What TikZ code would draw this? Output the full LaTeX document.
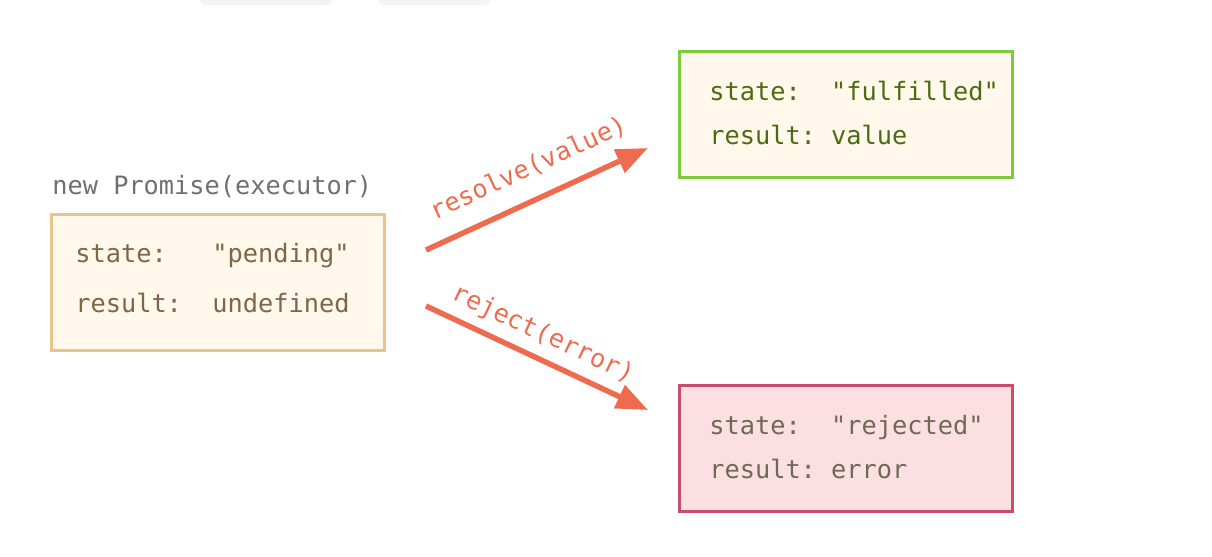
\documentclass[tikz,border=0pt]{standalone}
\usepackage{fontspec}
\setmonofont{DejaVu Sans Mono}
\usetikzlibrary{arrows.meta}
\definecolor{arrowred}{HTML}{EE6B4F}
\definecolor{pendline}{HTML}{E8C48C}
\definecolor{pendfill}{HTML}{FFF8EB}
\definecolor{pendtext}{HTML}{7E6646}
\definecolor{okline}{HTML}{7DCB3A}
\definecolor{oktext}{HTML}{4B6C14}
\definecolor{errline}{HTML}{C84C6E}
\definecolor{errfill}{HTML}{FCDFE3}
\definecolor{errtext}{HTML}{6E6A54}
\definecolor{captext}{HTML}{707070}
\definecolor{topbar}{HTML}{F5F2EF}
\tikzstyle{every node}=[font=\ttfamily\fontsize{14.4}{17}\selectfont]
\tikzstyle{statebox}=[draw,line width=2pt,minimum width=6.66cm,inner sep=0pt]
\tikzstyle{boxtext}=[anchor=base west,inner sep=0pt]
\tikzstyle{move}=[arrowred,line width=3.1pt,-{Triangle[length=18pt,width=14pt]}]
\tikzstyle{movelabel}=[sloped,inner sep=0pt,arrowred]

\begin{document}
\begin{tikzpicture}[x=0.02cm,y=-0.02cm]
  \useasboundingbox (0,0) rectangle (1212,556);
  \fill[topbar,rounded corners=3] (200,-8) rectangle (332,5);
  \fill[topbar,rounded corners=3] (378,-8) rectangle (490,5);
  % new promise
  \node[captext,boxtext] (executor) at (52,194) {new Promise(executor)};
  \node[statebox,draw=pendline,fill=pendfill,minimum height=2.72cm] (pending) at (218,282.5) {};
  \node[pendtext,boxtext] (pending-state) at (75,262) {state:~~~"pending"};
  \node[pendtext,boxtext] (pending-result) at (75,312) {result:~~undefined};
  % settled states
  \node[statebox,draw=okline,fill=pendfill,minimum height=2.52cm] (fulfilled) at (846,114.5) {};
  \node[oktext,boxtext] (fulfilled-state) at (709,100) {state:~~"fulfilled"};
  \node[oktext,boxtext] (fulfilled-result) at (709,144) {result:~value};
  \node[statebox,draw=errline,fill=errfill,minimum height=2.52cm] (rejected) at (846,448.5) {};
  \node[errtext,boxtext] (rejected-state) at (709,434) {state:~~"rejected"};
  \node[errtext,boxtext] (rejected-result) at (709,478) {result:~error};
  % transitions
  \coordinate (resolve-from) at (426,250);
  \coordinate (resolve-to) at (648,148);
  \coordinate (reject-from) at (426,306);
  \coordinate (reject-to) at (648,410);
  \draw[move] (resolve-from) -- (resolve-to)
    node[movelabel,pos=0.52,above=10pt] (resolve-label) {resolve(value)};
  \draw[move] (reject-from) -- (reject-to)
    node[movelabel,pos=0.48,above=5pt] (reject-label) {reject(error)};
\end{tikzpicture}
\end{document}
